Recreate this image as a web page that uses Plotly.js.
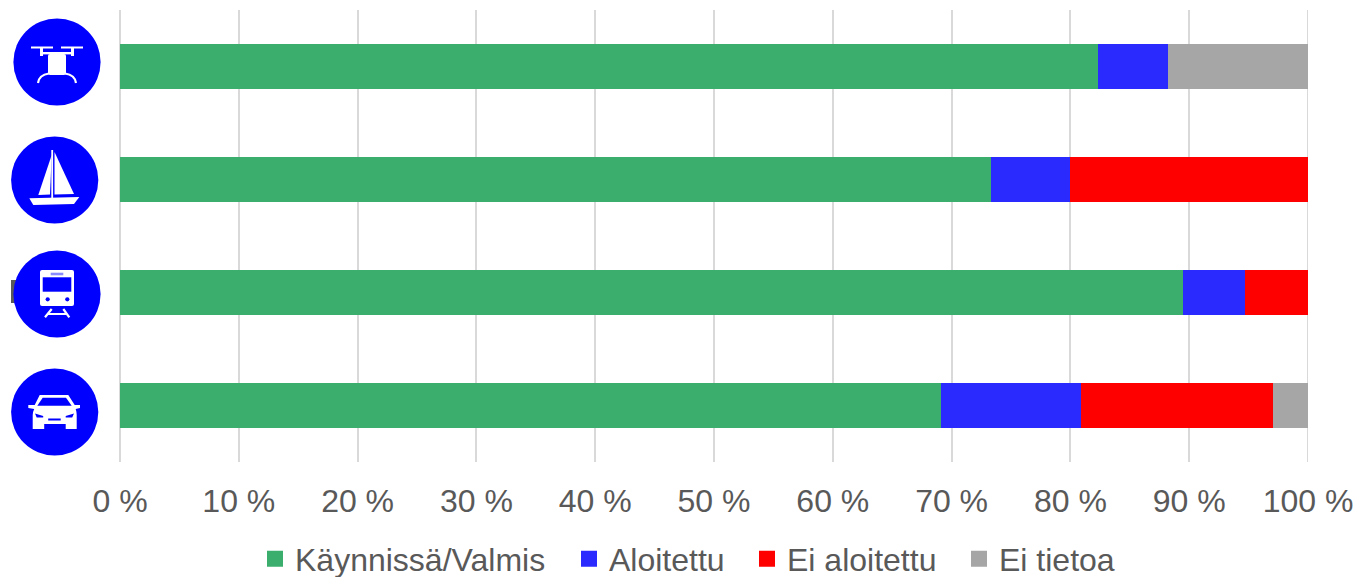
<!DOCTYPE html>
<html>
<head>
<meta charset="utf-8">
<script src="https://cdn.plot.ly/plotly-3.0.1.min.js"></script>
<style>html,body{margin:0;padding:0;background:#fff}#chart{width:1358px;height:577px}</style>
</head>
<body>
<div id="chart"></div>
<script>
const categories = ["Drooni", "Vene", "Juna", "Auto"];
const kaynnissa = [82.35, 73.33, 89.47, 69.12];
const aloitettu = [5.88, 6.67, 5.26, 11.76];
const eiAloitettu = [0, 20, 5.27, 16.18];
const eiTietoa = [11.77, 0, 0, 2.94];
const seriesNames = ["Käynnissä/Valmis", "Aloitettu", "Ei aloitettu", "Ei tietoa"];
const seriesColors = ["#3bae6d", "#2a2aff", "#ff0000", "#a6a6a6"];
const xTicks = [0, 10, 20, 30, 40, 50, 60, 70, 80, 90, 100];
const xTickLabels = ["0 %", "10 %", "20 %", "30 %", "40 %", "50 %", "60 %", "70 %", "80 %", "90 %", "100 %"];

const W = 1358, H = 577, L = 120, R = 1308, T = 10, B = 462;
const px = v => (v - L) / (R - L);
const py = v => (B - v) / (B - T);

function svgIcon(inner) {
  const s = '<svg xmlns="http://www.w3.org/2000/svg" width="360" height="360" viewBox="0 0 90 90">' +
    '<circle cx="45" cy="45" r="43.6" fill="#0000ff"/>' + inner + '</svg>';
  return 'data:image/svg+xml;base64,' + btoa(s);
}
const drone = svgIcon(
  '<g fill="#fff"><rect x="19" y="29.5" width="22" height="2"/><rect x="49" y="29.5" width="22" height="2"/>' +
  '<rect x="28" y="31" width="3" height="8"/><rect x="59" y="31" width="3" height="8"/>' +
  '<rect x="29" y="35" width="32" height="2.4"/><rect x="36" y="37" width="18" height="21" rx="2"/></g>' +
  '<path d="M26,66 Q27,58 37,56.5 M64,66 Q63,58 53,56.5" fill="none" stroke="#fff" stroke-width="2.2"/>');
const boat = svgIcon(
  '<g fill="#fff"><path d="M42,20 L28.6,60 L40.3,59.5 Z"/><path d="M44.8,17 L64.3,59 L44.8,59.5 Z"/>' +
  '<rect x="41.6" y="15" width="1.8" height="49"/>' +
  '<path d="M19.6,63.3 L69.6,62 L64.3,69 L23.6,70 Z"/></g>');
const train = svgIcon(
  '<rect x="28" y="21" width="34" height="36" rx="2" fill="#fff"/>' +
  '<rect x="30.7" y="28.3" width="28.6" height="14.4" fill="#0000ff"/>' +
  '<rect x="38.7" y="23.7" width="12.6" height="2.6" fill="#8a8aff"/>' +
  '<circle cx="35.7" cy="50.3" r="2.1" fill="#0000ff"/><circle cx="55.3" cy="50.3" r="2.1" fill="#0000ff"/>' +
  '<path d="M39.7,60 L33,68.3 M51.3,60 L57.3,68.3 M36,65 H54" stroke="#fff" stroke-width="2.2" fill="none"/>');
const car = svgIcon(
  '<path fill="#fff" d="M30,28 H58.6 L65,38 H70.3 V41 L66,42 Q67,45 67,48 V62 H56 V57 H34.5 V62 H23 V48 Q23,45 24.5,42 L18.6,41 V38 H25 Z"/>' +
  '<path fill="#0000ff" d="M27.6,38.7 L33,30.7 H56.3 L62,38.7 Z"/>' +
  '<path fill="#0000ff" d="M25.3,46.5 L33.5,49 L33.5,50.5 H27 Z M64.3,46.5 L56,49 L56,50.5 H62.5 Z"/>' +
  '<rect x="38.5" y="51.5" width="12.5" height="2" fill="#0000ff"/>');

const iconPics = [
  {src: drone, cx: 57, cy: 62},
  {src: boat, cx: 54.7, cy: 180},
  {src: train, cx: 57, cy: 294},
  {src: car, cx: 54.7, cy: 412}
];
const images = iconPics.map(i => ({
  source: i.src, xref: 'paper', yref: 'paper',
  x: px(i.cx - 45), y: py(i.cy - 45),
  sizex: 90 / (R - L), sizey: 90 / (B - T),
  xanchor: 'left', yanchor: 'top', sizing: 'stretch', layer: 'above'
}));

const values = [kaynnissa, aloitettu, eiAloitettu, eiTietoa];
const barTraces = values.map((v, i) => ({
  type: 'bar', orientation: 'h', y: categories, x: v, name: seriesNames[i],
  width: 0.403, marker: {color: seriesColors[i], line: {width: 0}},
  legendgroup: 'g' + i, showlegend: false, hoverinfo: 'x+y+name'
}));
const legendIds = ['legend', 'legend2', 'legend3', 'legend4'];
const legendKeys = barTraces.map((_, i) => ({
  type: 'scatter', mode: 'markers', x: [null], y: [null], name: seriesNames[i],
  marker: {symbol: 'square', size: 16, color: seriesColors[i]},
  legendgroup: 'g' + i, legend: legendIds[i], showlegend: true, hoverinfo: 'skip'
}));

const legendLeft = [255, 569, 747, 959];
const font = {family: '"Liberation Sans", Arial, sans-serif', size: 32, color: '#595959'};
const layout = {
  width: W, height: H,
  margin: {l: L, r: W - R, t: T, b: H - B, pad: 0, autoexpand: false},
  paper_bgcolor: '#fff', plot_bgcolor: '#fff',
  font: font, barmode: 'stack', showlegend: true,
  xaxis: {
    range: [0, 100], tickvals: xTicks, ticktext: xTickLabels, showgrid: true,
    gridcolor: '#d9d9d9', gridwidth: 2, zeroline: true, zerolinecolor: '#d9d9d9', zerolinewidth: 2,
    showline: false, ticks: '', tickfont: font, automargin: false, fixedrange: true, ticklabelstandoff: 17
  },
  yaxis: {
    type: 'category', categoryorder: 'array', categoryarray: categories,
    range: [3.5, -0.5], showticklabels: false, showgrid: false, zeroline: false,
    showline: false, ticks: '', automargin: false, fixedrange: true
  },
  images: images,
  shapes: [{
    type: 'rect', xref: 'paper', yref: 'paper', layer: 'below',
    x0: px(11), x1: px(16), y0: py(303), y1: py(280),
    fillcolor: '#595959', line: {width: 0}
  }, {
    type: 'line', xref: 'x', yref: 'paper', layer: 'below',
    x0: 100, x1: 100, y0: 0, y1: 1,
    line: {color: '#d9d9d9', width: 2}
  }]
};
legendIds.forEach((id, i) => {
  layout[id] = {
    x: px(legendLeft[i]), y: py(559), xanchor: 'left', yanchor: 'middle',
    orientation: 'h', font: font, bgcolor: 'rgba(0,0,0,0)', borderwidth: 0,
    itemclick: false, itemdoubleclick: false
  };
});

Plotly.newPlot('chart', barTraces.concat(legendKeys), layout, {displayModeBar: false, responsive: false});
</script>
</body>
</html>
